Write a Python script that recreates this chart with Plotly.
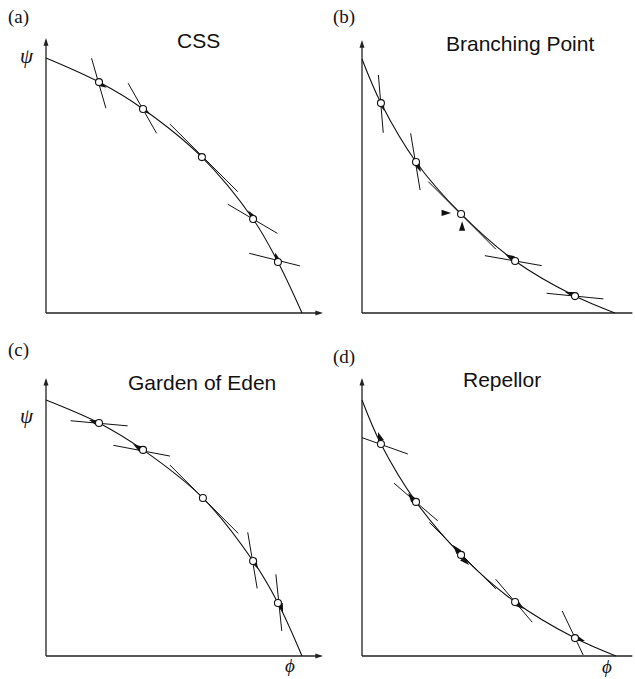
import math
import plotly.graph_objects as go

W, H = 635, 679
S = 256.0  # pixels per data unit (same on both axes)

panel_keys = ["a", "b", "c", "d"]
panel_titles = {"a": "CSS", "b": "Branching Point", "c": "Garden of Eden", "d": "Repellor"}
panel_tags = {"a": "(a)", "b": "(b)", "c": "(c)", "d": "(d)"}

# ---- frontier curves (phi, psi) ----
curve_phi = {
    "a": [0.0, 0.207, 0.379, 0.609, 0.809, 0.906, 1.0],
    "b": [0.0, 0.074, 0.211, 0.387, 0.598, 0.832, 0.988],
    "c": [0.0, 0.207, 0.379, 0.613, 0.809, 0.906, 1.0],
    "d": [0.0, 0.074, 0.211, 0.387, 0.598, 0.832, 0.992],
}
curve_psi = {
    "a": [0.996, 0.902, 0.797, 0.609, 0.367, 0.199, 0.0],
    "b": [0.992, 0.820, 0.590, 0.387, 0.203, 0.066, 0.0],
    "c": [1.0, 0.910, 0.805, 0.617, 0.371, 0.207, 0.0],
    "d": [1.0, 0.828, 0.602, 0.395, 0.211, 0.070, 0.0],
}

# ---- short line segments through each singular point (x0, y0, x1, y1) ----
segments = {
    "a": [(0.178, 0.995, 0.234, 0.800), (0.321, 0.897, 0.432, 0.702),
          (0.484, 0.738, 0.749, 0.474), (0.710, 0.425, 0.904, 0.311),
          (0.794, 0.233, 0.992, 0.184)],
    "b": [(0.064, 0.930, 0.083, 0.704), (0.190, 0.702, 0.227, 0.480),
          (0.259, 0.513, 0.523, 0.249), (0.480, 0.224, 0.702, 0.185),
          (0.721, 0.077, 0.943, 0.055)],
    "c": [(0.096, 0.919, 0.319, 0.899), (0.263, 0.823, 0.484, 0.781),
          (0.484, 0.746, 0.751, 0.479), (0.788, 0.483, 0.825, 0.264),
          (0.898, 0.319, 0.921, 0.098)],
    "d": [(0.0, 0.853, 0.179, 0.789), (0.125, 0.675, 0.296, 0.528),
          (0.263, 0.522, 0.523, 0.262), (0.522, 0.300, 0.665, 0.132),
          (0.782, 0.176, 0.864, 0.004)],
}

# ---- direction arrows (tail_x, tail_y, head_x, head_y) ----
arrows = {
    "a": [(0.215, 0.893, 0.237, 0.880), (0.387, 0.791, 0.406, 0.777),
          (0.803, 0.381, 0.790, 0.400), (0.900, 0.219, 0.895, 0.236)],
    "b": [(0.080, 0.809, 0.087, 0.789), (0.219, 0.574, 0.230, 0.551),
          (0.578, 0.219, 0.559, 0.230), (0.812, 0.076, 0.793, 0.082),
          (0.320, 0.391, 0.348, 0.391), (0.391, 0.330, 0.391, 0.358)],
    "c": [(0.191, 0.914, 0.168, 0.922), (0.363, 0.813, 0.340, 0.828),
          (0.816, 0.363, 0.828, 0.340), (0.918, 0.191, 0.926, 0.168)],
    "d": [(0.070, 0.852, 0.0625, 0.875), (0.195, 0.617, 0.180, 0.637),
          (0.375, 0.410, 0.355, 0.434), (0.398, 0.375, 0.418, 0.355),
          (0.613, 0.199, 0.633, 0.184), (0.848, 0.066, 0.871, 0.059)],
}

# axis extents (data units)
axis_x_end = {"a": 1.082, "b": 1.066, "c": 1.082, "d": 1.066}
axis_y_end = {"a": 1.074, "b": 1.066, "c": 1.086, "d": 1.086}

# ---- layout of panels (pixel origin of each panel) ----
origin_px = {"a": (46, 313), "b": (362, 313), "c": (46, 656), "d": (362, 656)}
x_range = {"a": (-0.15, 1.1), "b": (-0.1, 1.065), "c": (-0.15, 1.1), "d": (-0.1, 1.065)}
y_range = (-0.05, 1.1)

fig = go.Figure()
layout = dict(
    width=W, height=H, autosize=False,
    margin=dict(l=0, r=0, t=0, b=0),
    paper_bgcolor="white", plot_bgcolor="rgba(0,0,0,0)",
    showlegend=False,
)

annotations = []

for i, k in enumerate(panel_keys):
    n = i + 1
    xa = "x" if n == 1 else f"x{n}"
    ya = "y" if n == 1 else f"y{n}"
    ox, oy = origin_px[k]
    xr = x_range[k]
    xdom = [(ox + xr[0] * S) / W, (ox + xr[1] * S) / W]
    ydom = [1 - (oy - y_range[0] * S) / H, 1 - (oy - y_range[1] * S) / H]
    xkey = "xaxis" if n == 1 else f"xaxis{n}"
    ykey = "yaxis" if n == 1 else f"yaxis{n}"
    layout[xkey] = dict(domain=xdom, range=list(xr), visible=False, anchor=ya, fixedrange=True)
    layout[ykey] = dict(domain=ydom, range=list(y_range), visible=False, anchor=xa, fixedrange=True)

    axcol = "#222222"
    # axes lines
    fig.add_trace(go.Scatter(x=[0, axis_x_end[k] - 0.01], y=[0, 0], mode="lines",
                             line=dict(color=axcol, width=1.3), xaxis=xa, yaxis=ya,
                             hoverinfo="skip", cliponaxis=False))
    fig.add_trace(go.Scatter(x=[0, 0], y=[0, axis_y_end[k] - 0.01], mode="lines",
                             line=dict(color=axcol, width=1.3), xaxis=xa, yaxis=ya,
                             hoverinfo="skip", cliponaxis=False))
    fig.add_trace(go.Scatter(x=[axis_x_end[k], 0], y=[0, axis_y_end[k]], mode="markers",
                             marker=dict(symbol="arrow", size=8, angle=[90, 0],
                                         color=axcol, line=dict(width=0)),
                             xaxis=xa, yaxis=ya, hoverinfo="skip", cliponaxis=False))

    # segments
    for (x0, y0, x1, y1) in segments[k]:
        fig.add_trace(go.Scatter(x=[x0, x1], y=[y0, y1], mode="lines",
                                 line=dict(color="#111111", width=1.0),
                                 xaxis=xa, yaxis=ya, hoverinfo="skip"))

    # curve
    fig.add_trace(go.Scatter(x=curve_phi[k], y=curve_psi[k], mode="lines",
                             line=dict(color="#111111", width=1.1, shape="spline", smoothing=1.0),
                             xaxis=xa, yaxis=ya, hoverinfo="skip", cliponaxis=False))

    # arrowheads
    ax_x, ax_y, ang = [], [], []
    for (tx, ty, hx, hy) in arrows[k]:
        ax_x.append(hx)
        ax_y.append(hy)
        ang.append(math.degrees(math.atan2(hx - tx, hy - ty)))
    fig.add_trace(go.Scatter(x=ax_x, y=ax_y, mode="markers",
                             marker=dict(symbol="arrow", size=10, angle=ang,
                                         color="#111111", line=dict(width=0)),
                             xaxis=xa, yaxis=ya, hoverinfo="skip"))

    # singular points (open circles)
    fig.add_trace(go.Scatter(x=curve_phi[k][1:6], y=curve_psi[k][1:6], mode="markers",
                             marker=dict(symbol="circle", size=7, color="white",
                                         line=dict(color="#111111", width=1.1)),
                             xaxis=xa, yaxis=ya, hoverinfo="skip"))


def txt(text, px, py, size, family, **kw):
    annotations.append(dict(text=text, x=px / W, y=1 - py / H, xref="paper", yref="paper",
                            showarrow=False, xanchor="center", yanchor="middle",
                            font=dict(size=size, family=family, color="#111111"), **kw))


serif = "Liberation Serif, Times New Roman, DejaVu Serif, serif"
sans = "Liberation Sans, Arial, Helvetica, sans-serif"

tag_px = {"a": (18, 17), "b": (344, 17), "c": (18, 350), "d": (344, 357)}
title_px = {"a": (198, 40), "b": (520, 43), "c": (202, 382), "d": (502, 379)}
for k in panel_keys:
    txt(panel_tags[k], *tag_px[k], 19, serif)
    txt(panel_titles[k], *title_px[k], 21, sans)

txt("<i>ψ</i>", 27, 56, 21, serif)
txt("<i>ψ</i>", 27, 416, 21, serif)
txt("<i>ϕ</i>", 290, 665, 19, serif)
txt("<i>ϕ</i>", 607, 666, 19, serif)

layout["annotations"] = annotations
fig.update_layout(**layout)
fig.write_html(
    "out.html",
    config={"displayModeBar": False, "staticPlot": True},
    post_script="document.body.style.margin='0';document.body.style.padding='0';"
                "document.body.style.overflow='hidden';",
)
